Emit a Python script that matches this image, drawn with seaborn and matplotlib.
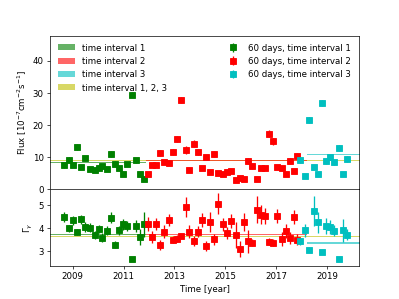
import matplotlib
matplotlib.use("Agg")
import matplotlib.pyplot as plt
import seaborn as sns

# ===============================================================
# DATA (60-day bins)
# ===============================================================
# time interval 1 (green)
t1 = [2008.67, 2008.84, 2008.99, 2009.15, 2009.32, 2009.49, 2009.67, 2009.86,
      2010.03, 2010.16, 2010.33, 2010.49, 2010.66, 2010.82, 2010.98, 2011.15,
      2011.31, 2011.48, 2011.64, 2011.81]
flux1 = [7.4, 9.2, 7.6, 13.1, 6.9, 9.6, 6.4, 6.1, 6.7, 7.3, 6.4, 10.9, 8.0,
         6.7, 4.6, 7.8, 29.4, 9.0, 4.7, 3.2]
flux1_err = [0.7, 0.8, 0.7, 1.0, 0.6, 0.8, 0.6, 0.6, 0.6, 0.7, 0.6, 0.9, 0.7,
             0.6, 0.5, 0.7, 0.8, 0.8, 0.5, 0.5]
gam1 = [4.50, 4.00, 4.35, 3.84, 4.39, 4.06, 4.03, 3.70, 3.96, 3.60, 3.89,
        4.47, 3.28, 3.91, 4.17, 4.10, 2.65, 4.10, 3.63, 4.18]
gam1_err = [0.22, 0.15, 0.2, 0.12, 0.2, 0.2, 0.2, 0.18, 0.18, 0.18, 0.2,
            0.25, 0.15, 0.2, 0.25, 0.2, 0.0, 0.25, 0.35, 0.55]

# time interval 2 (red)
t2 = [2011.94, 2012.10, 2012.26, 2012.44, 2012.57, 2012.77, 2012.93, 2013.10,
      2013.25, 2013.44, 2013.58, 2013.76, 2013.93, 2014.09, 2014.24, 2014.41,
      2014.57, 2014.73, 2014.89, 2015.05, 2015.21, 2015.40, 2015.58, 2015.73,
      2015.90, 2016.05, 2016.23, 2016.39, 2016.55, 2016.72, 2016.88, 2017.05,
      2017.21, 2017.38, 2017.55, 2017.71, 2017.83]
flux2 = [4.7, 7.5, 7.5, 11.2, 8.5, 8.1, 11.6, 15.6, 27.8, 12.3, 6.0, 14.2,
         11.6, 6.6, 9.9, 5.3, 10.9, 5.1, 4.9, 5.3, 5.7, 2.8, 3.6, 3.2, 8.8,
         7.1, 3.2, 6.5, 6.5, 17.3, 14.9, 6.9, 6.5, 4.9, 8.8, 5.7, 10.4]
flux2_err = [0.5, 0.7, 0.7, 0.9, 0.7, 0.7, 0.9, 1.0, 1.0, 1.3, 0.6, 1.0, 0.9,
             0.6, 0.8, 0.5, 0.9, 0.5, 0.5, 0.5, 0.6, 0.4, 0.5, 0.4, 0.8, 0.7,
             0.4, 0.6, 0.6, 1.1, 1.0, 0.7, 0.6, 0.5, 0.8, 0.6, 0.9]
gam2 = [4.20, 3.63, 4.20, 3.28, 3.86, 4.36, 3.50, 3.55, 3.67, 4.93, 3.86,
        3.45, 3.86, 4.36, 3.23, 4.28, 3.52, 5.08, 4.17, 3.80, 4.31, 3.71,
        3.11, 4.27, 3.44, 3.37, 4.82, 4.60, 4.52, 3.42, 3.37, 4.53, 3.55,
        3.88, 3.58, 4.49, 3.51]
gam2_err = [0.3, 0.25, 0.25, 0.2, 0.3, 0.25, 0.15, 0.15, 0.1, 0.43, 0.3,
            0.2, 0.25, 0.3, 0.2, 0.45, 0.25, 0.47, 0.3, 0.25, 0.3, 0.55,
            0.35, 0.4, 0.5, 0.15, 0.6, 0.4, 0.35, 0.15, 0.15, 0.3, 0.3,
            0.3, 0.25, 0.3, 0.25]

# time interval 3 (cyan)
t3 = [2017.94, 2018.13, 2018.29, 2018.47, 2018.63, 2018.79, 2018.96, 2019.12,
      2019.29, 2019.45, 2019.61, 2019.77]
flux3 = [9.0, 4.1, 21.5, 6.9, 4.7, 26.8, 8.8, 9.9, 8.4, 12.9, 4.8, 9.4]
flux3_err = [0.8, 0.5, 1.0, 0.7, 0.5, 1.0, 0.8, 0.8, 0.7, 0.9, 0.5, 0.8]
gam3 = [3.43, 3.91, 3.04, 4.74, 4.26, 2.97, 4.09, 4.06, 3.90, 2.67, 3.91, 3.73]
gam3_err = [0.15, 0.3, 0.0, 0.65, 0.45, 0.0, 0.35, 0.3, 0.25, 0.0, 0.5, 0.25]

# average levels per interval (lower, upper)
band_t = {"1": (2008.0, 2011.87), "2": (2011.87, 2018.2),
          "3": (2018.2, 2020.6), "all": (2008.0, 2020.6)}
band_flux = {"1": (8.1, 8.45), "2": (8.75, 9.1), "3": (10.65, 11.0), "all": (8.8, 9.15)}
band_gam = {"1": (3.71, 3.76), "2": (3.72, 3.77), "3": (3.34, 3.39), "all": (3.62, 3.67)}

# ===============================================================
# PLOT
# ===============================================================
sns.set_style("ticks", {"axes.edgecolor": "black", "xtick.color": "black",
                        "ytick.color": "black", "text.color": "black",
                        "axes.labelcolor": "black"})
plt.rcParams["font.family"] = ["DejaVu Sans"]

fig, (ax1, ax2) = plt.subplots(2, 1, sharex=True, figsize=(6.4, 4.8), dpi=399 / 6.4,
                               gridspec_kw={"height_ratios": [2, 1], "hspace": 0})

band_cols = {"1": "g", "2": "r", "3": "c", "all": "y"}
band_labels = {"1": "time interval 1", "2": "time interval 2",
               "3": "time interval 3", "all": "time interval 1, 2, 3"}

band_handles = {}
for ax, bands in ((ax1, band_flux), (ax2, band_gam)):
    for key in ("all", "1", "2", "3"):
        x0, x1 = band_t[key]
        lo, hi = bands[key]
        h = ax.fill_between([x0, x1], lo, hi, color=band_cols[key], alpha=0.6,
                            lw=0, label=band_labels[key])
        if ax is ax1:
            band_handles[key] = h

pts = [(t1, flux1, flux1_err, gam1, gam1_err, "g", "60 days, time interval 1"),
       (t2, flux2, flux2_err, gam2, gam2_err, "r", "60 days, time interval 2"),
       (t3, flux3, flux3_err, gam3, gam3_err, "c", "60 days, time interval 3")]
pt_handles = []
for t, f, fe, g, ge, col, lab in pts:
    h = ax1.errorbar(t, f, yerr=fe, fmt="s", color=col, ms=6, label=lab)
    ax2.errorbar(t, g, yerr=ge, fmt="s", color=col, ms=6)
    pt_handles.append(h)

bh = [band_handles["1"], band_handles["2"], band_handles["3"], band_handles["all"]]
leg1 = ax1.legend(handles=bh, labels=[h.get_label() for h in bh],
                  loc="upper left", frameon=False)
ax1.add_artist(leg1)
ax1.legend(handles=pt_handles, labels=[h.get_label() for h in pt_handles],
           loc="upper right", frameon=False)

ax1.set_ylim(0, 47.8)
ax1.set_yticks([0, 10, 20, 30, 40])
ax1.set_ylabel("Flux [10$^{-7}$cm$^{-2}$s$^{-1}$]")

ax2.set_ylim(2.36, 5.7)
ax2.set_yticks([3, 4, 5])
ax2.set_ylabel(r"$\Gamma_\gamma$")
ax2.set_xlim(2008.1, 2020.26)
ax2.set_xticks([2009, 2011, 2013, 2015, 2017, 2019])
ax2.set_xlabel("Time [year]")

fig.savefig("out.png", dpi=399 / 6.4)
